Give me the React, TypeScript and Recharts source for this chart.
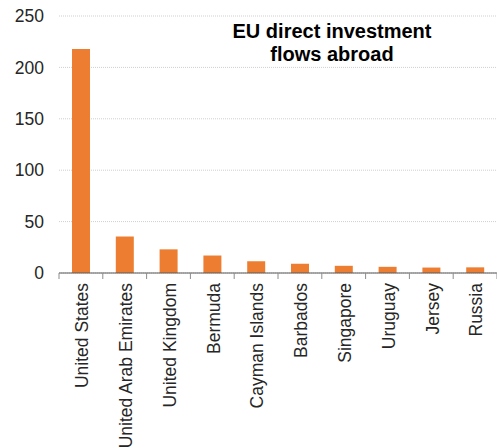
import { BarChart, Bar, XAxis, YAxis, CartesianGrid } from 'recharts';

// EU direct investment flows abroad, by destination
const COUNTRIES = [
  'United States',
  'United Arab Emirates',
  'United Kingdom',
  'Bermuda',
  'Cayman Islands',
  'Barbados',
  'Singapore',
  'Uruguay',
  'Jersey',
  'Russia',
];
const FLOWS = [218, 35.5, 23, 17, 11.5, 9, 7, 6, 5.3, 5.5];
const Y_TICKS = [0, 50, 100, 150, 200, 250];

const FONT = 'Arial, "Liberation Sans", sans-serif';
const ORANGE = '#ED7D31';

const data = COUNTRIES.map((name, i) => ({ name, value: FLOWS[i] }));

// category labels rotated; tick marks sit on the band edges, not centers
function CountryTick(props: any) {
  const { x, y, payload, index, width, visibleTicksCount } = props;
  const bw = width / visibleTicksCount;
  const left = x - bw / 2;
  return (
    <g>
      <line x1={left} x2={left} y1={y - 8} y2={y - 2} stroke="#8c8c8c" />
      {index === visibleTicksCount - 1 && (
        <line x1={x + bw / 2} x2={x + bw / 2} y1={y - 8} y2={y - 2} stroke="#8c8c8c" />
      )}
      <text
        transform={`translate(${x + 1},${y + 2}) rotate(-90)`}
        textAnchor="end"
        dy="0.36em"
        fill="#262626"
        fontSize={17.5}
        fontFamily={FONT}
      >
        {payload.value}
      </text>
    </g>
  );
}

export default function App() {
  return (
    <div style={{ position: 'absolute', left: 0, top: 0, width: 497, height: 448, background: '#fff' }}>
      <BarChart
        width={497}
        height={448}
        data={data}
        margin={{ top: 16, right: 0, bottom: 0, left: 0 }}
      >
        <CartesianGrid
          vertical={false}
          stroke="#cfcfcf"
          strokeDasharray="1 1"
        />
        <XAxis
          dataKey="name"
          interval={0}
          height={175}
          axisLine={{ stroke: '#595959' }}
          tickLine={false}
          tick={<CountryTick />}
        />
        <YAxis
          domain={[0, 250]}
          ticks={Y_TICKS}
          width={59}
          axisLine={false}
          tickLine={false}
          tickMargin={9}
          tick={{ fill: '#262626', fontSize: 17.5, fontFamily: FONT }}
        />
        <Bar dataKey="value" fill={ORANGE} barSize={18} isAnimationActive={false} />
      </BarChart>
      <div
        style={{
          position: 'absolute',
          left: 232,
          top: 20,
          width: 200,
          textAlign: 'center',
          fontFamily: FONT,
          fontWeight: 'bold',
          fontSize: 20,
          lineHeight: '23px',
          color: '#000',
        }}
      >
        EU direct investment
        <br />
        flows abroad
      </div>
    </div>
  );
}
